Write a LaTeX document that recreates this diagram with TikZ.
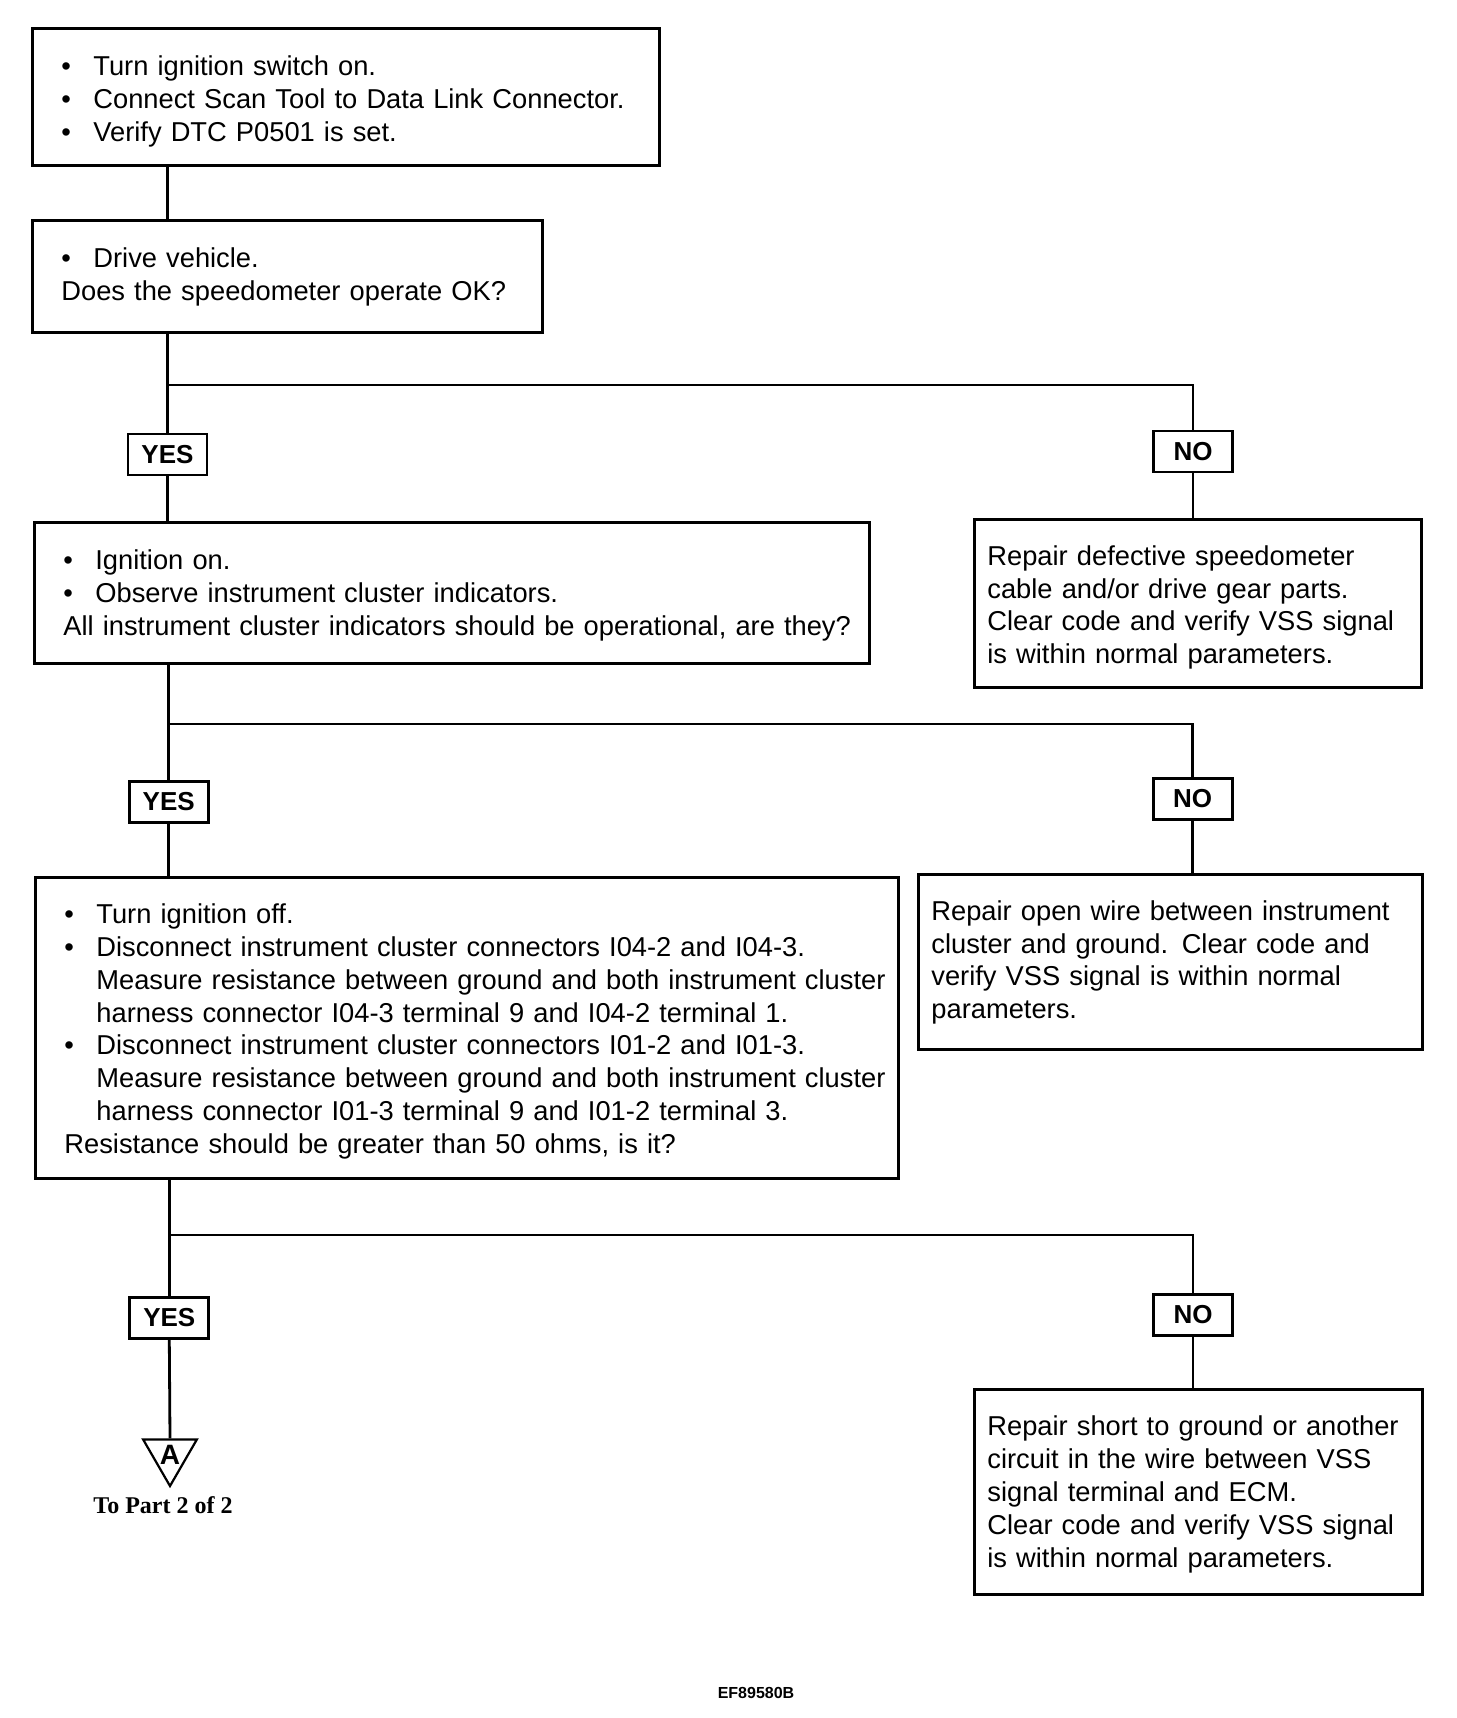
\documentclass[tikz,border=0pt]{standalone}
\usepackage{fontspec}
\setmainfont{Liberation Sans}
\newfontfamily\partfont{Liberation Serif}
\usetikzlibrary{positioning,shapes.geometric}
\tikzset{
  stepbox/.style={draw, line width=2.8pt, anchor=north west, inner xsep=29pt, inner ysep=0pt,
                  font=\fontsize{27.3}{32.8}\selectfont},
  fixbox/.style={stepbox, inner xsep=13pt},
  answer/.style={draw, line width=2.8pt, font=\fontsize{26}{30}\selectfont\bfseries,
                 minimum width=79pt, minimum height=41pt, inner sep=0pt},
  link/.style={line width=2.8pt},
}
\newcommand{\bitem}[1]{\makebox[32pt][l]{\textbullet}#1}
\newcommand{\cont}[1]{\hspace*{32pt}#1}
% text block, lowered by #1 inside its box
\newcommand{\boxlines}[2]{\raisebox{-#1}[\height][\depth]{\begin{tabular}{@{}l@{}}#2\end{tabular}}}

\begin{document}
\begin{tikzpicture}[x=1pt, y=-1pt]
\useasboundingbox (0,0) rectangle (1456,1718);

% Step 1
\node[stepbox, text width=569pt, minimum height=137pt] (chk) at (31,27)
  {\boxlines{5pt}{\bitem{Turn ignition switch on.}\\
   \bitem{Connect Scan Tool to Data Link Connector.}\\
   \bitem{Verify DTC P0501 is set.}}};

% Step 2
\node[stepbox, text width=452pt, minimum height=112pt] (drive) at (31,219)
  {\boxlines{1pt}{\bitem{Drive vehicle.}\\
   Does the speedometer operate OK?}};

\node[answer] (yes1) at (167.5,454.5) {YES};
\node[answer] (no1) at (1193,451.5) {NO};
\coordinate (fork1) at (167.5,385);

\draw[link] (chk.south -| yes1) -- (drive.north -| yes1);
\draw[link] (drive.south -| yes1) -- (yes1.north);
\draw[link] (fork1) -| (no1.north);

% Step 3
\node[stepbox, text width=777pt, minimum height=141pt] (cluster) at (33,521)
  {\boxlines{3pt}{\bitem{Ignition on.}\\
   \bitem{Observe instrument cluster indicators.}\\
   All instrument cluster indicators should be operational, are they?}};

\node[fixbox, text width=421pt, minimum height=168pt] (fixcable) at (973,518)
  {\boxlines{4.5pt}{Repair defective speedometer\\
   cable and/or drive gear parts.\\
   Clear code and verify VSS signal\\
   is within normal parameters.}};

\draw[link] (yes1.south) -- (cluster.north -| yes1);
\draw[link] (no1.south) -- (fixcable.north -| no1);

\node[answer] (yes2) at (168.7,802) {YES};
\node[answer] (no2) at (1192.6,799) {NO};
\coordinate (fork2) at (168.7,724);

\draw[link] (cluster.south -| yes2) -- (yes2.north);
\draw[link] (fork2) -| (no2.north);

% Step 4
\node[stepbox, text width=805pt, minimum height=301pt] (resist) at (34,876)
  {\boxlines{4pt}{\bitem{Turn ignition off.}\\
   \bitem{Disconnect instrument cluster connectors I04-2 and I04-3.}\\
   \cont{Measure resistance between ground and both instrument cluster}\\
   \cont{harness connector I04-3 terminal 9 and I04-2 terminal 1.}\\
   \bitem{Disconnect instrument cluster connectors I01-2 and I01-3.}\\
   \cont{Measure resistance between ground and both instrument cluster}\\
   \cont{harness connector I01-3 terminal 9 and I01-2 terminal 3.}\\
   Resistance should be greater than 50 ohms, is it?}};

\node[fixbox, text width=478pt, minimum height=175pt] (fixopen) at (917,873)
  {\boxlines{1pt}{Repair open wire between instrument\\
   cluster and ground. Clear code and\\
   verify VSS signal is within normal\\
   parameters.}};

\draw[link] (yes2.south) -- (resist.north -| yes2);
\draw[link] (no2.south) -- (fixopen.north -| no2);

\node[answer] (yes3) at (169.3,1318) {YES};
\node[answer] (no3) at (1193,1315) {NO};
\coordinate (fork3) at (169.3,1235);

\draw[link] (resist.south -| yes3) -- (yes3.north);
\draw[link] (fork3) -| (no3.north);

\node[fixbox, text width=422pt, minimum height=205pt] (fixshort) at (973,1388)
  {\boxlines{3pt}{Repair short to ground or another\\
   circuit in the wire between VSS\\
   signal terminal and ECM.\\
   Clear code and verify VSS signal\\
   is within normal parameters.}};

\draw[link] (no3.south) -- (fixshort.north -| no3);

% Off-page connector
\node[draw, line width=2.2pt, regular polygon, regular polygon sides=3, shape border rotate=180,
      minimum size=62pt, inner sep=0pt, font=\fontsize{28}{28}\selectfont\bfseries] (partA) at (170,1455) {A};
\node[font=\partfont\bfseries\fontsize{24}{24}\selectfont] (topart) at (163,1505) {To Part 2 of 2};

\draw[link] (yes3.south) -- (partA.90);

\node[font=\bfseries\fontsize{16}{16}\selectfont] (figid) at (756,1693) {EF89580B};

\end{tikzpicture}
\end{document}
